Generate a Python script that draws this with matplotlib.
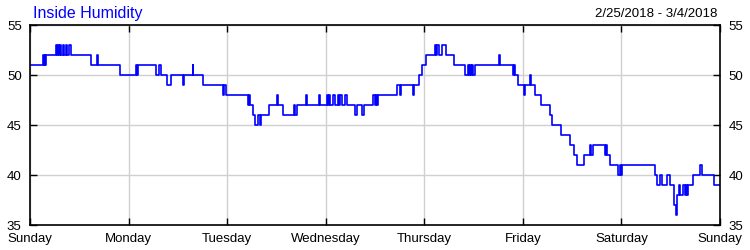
import matplotlib
matplotlib.use("Agg")
import matplotlib.pyplot as plt

# Inside humidity, 2/25/2018 - 3/4/2018, hours since Sunday 00:00 -> value (%)
hours = [
    0.0, 3.2, 3.4, 3.6, 3.7, 3.9,
    6.3, 6.6, 6.8, 7.1, 7.3, 7.5, 8.0, 8.3, 8.8, 9.0, 9.5, 10.0,
    14.9, 16.4, 16.6,
    21.8, 25.8, 26.0, 26.3,
    30.7, 31.3, 32.0, 33.4, 34.4,
    37.3, 37.6, 39.6, 39.8,
    42.1, 47.0, 47.3, 47.7,
    53.0, 53.3, 53.6, 54.2, 54.8, 55.6, 55.9, 56.3,
    58.1, 60.1, 60.3, 61.7,
    64.3, 64.6, 65.0, 67.2, 67.4,
    70.4, 70.6, 72.3, 72.5, 72.7, 73.0, 73.8, 74.3,
    75.0, 75.3, 75.6, 75.9, 76.7, 77.1,
    79.1, 79.7, 80.8, 81.4,
    83.6, 83.9, 84.2, 84.4, 84.8,
    89.4, 90.2, 90.4, 93.3, 93.6,
    94.7, 95.4, 96.5, 98.6, 98.9, 99.2, 99.5, 100.2, 101.4, 103.3,
    105.5, 105.9, 106.7, 106.9, 107.2, 107.4, 107.7, 107.9, 108.3,
    114.2, 114.4,
    117.5, 117.9, 118.2, 118.9, 120.3, 120.6, 121.7, 122.0,
    123.0, 124.3, 126.6, 127.0, 129.2, 131.5, 132.5, 133.1,
    134.9, 136.4, 136.7, 137.0, 137.3,
    140.0, 140.3, 140.5, 141.2, 143.2, 143.6, 143.9, 144.2,
    152.2, 152.7, 153.4, 153.9, 155.1, 155.9, 156.9, 157.3, 157.5,
    157.9, 158.3, 159.1, 159.4, 159.8, 160.0, 160.3, 161.5, 163.2, 163.7,
    166.6, 168.0,
]
humidity = [
    51, 52, 51, 52, 51, 52,
    53, 52, 53, 52, 53, 52, 53, 52, 53, 52, 53, 52,
    51, 52, 51,
    50, 51, 50, 51,
    50, 51, 50, 49, 50,
    49, 50, 51, 50,
    49, 48, 49, 48,
    47, 48, 47, 46, 45, 46, 45, 46,
    47, 48, 47, 46,
    47, 46, 47, 48, 47,
    48, 47, 48, 47, 48, 47, 48, 47,
    48, 47, 48, 47, 48, 47,
    46, 47, 46, 47,
    48, 47, 48, 47, 48,
    49, 48, 49, 48, 49,
    50, 51, 52, 53, 52, 53, 52, 53, 52, 51,
    51, 50, 51, 50, 51, 50, 51, 50, 51,
    52, 51,
    50, 51, 50, 49, 48, 49, 50, 49,
    48, 47, 46, 45, 44, 43, 42, 41,
    42, 43, 42, 43, 43,
    42, 43, 42, 41, 40, 41, 40, 41,
    40, 39, 40, 39, 40, 39, 37, 36, 38,
    39, 38, 39, 38, 39, 38, 39, 40, 41, 40,
    39, 39,
]
day_labels = ["Sunday", "Monday", "Tuesday", "Wednesday", "Thursday",
              "Friday", "Saturday", "Sunday"]
y_ticks = [35, 40, 45, 50, 55]

plt.rcParams["font.family"] = ["Liberation Sans", "DejaVu Sans"]

fig = plt.figure(figsize=(7.5, 2.5), dpi=100)
ax = fig.add_axes([0.04, 0.10, 0.92, 0.80])

ax.step(hours, humidity, where="post", color="#0000ff", lw=1.2)

ax.set_xlim(0, 168)
ax.set_ylim(35, 55)
ax.set_xticks([24 * i for i in range(len(day_labels))])
ax.set_xticklabels(day_labels)
ax.set_yticks(y_ticks)
ax.grid(True, color="#d0d0d0", lw=1)
ax.set_axisbelow(True)

ax.tick_params(axis="both", direction="in", length=5, width=1, labelsize=9.5,
               top=True, right=True, labelright=True, colors="black")
ax.tick_params(axis="x", pad=6)
ax.tick_params(axis="y", pad=6)
for s in ax.spines.values():
    s.set_linewidth(1.2)

fig.text(0.044, 0.945, "Inside Humidity", color="#0000ff", fontsize=11.5,
         ha="left", va="center")
fig.text(0.957, 0.945, "2/25/2018 - 3/4/2018", color="black", fontsize=9.5,
         ha="right", va="center")

fig.savefig("out.png", dpi=100)
